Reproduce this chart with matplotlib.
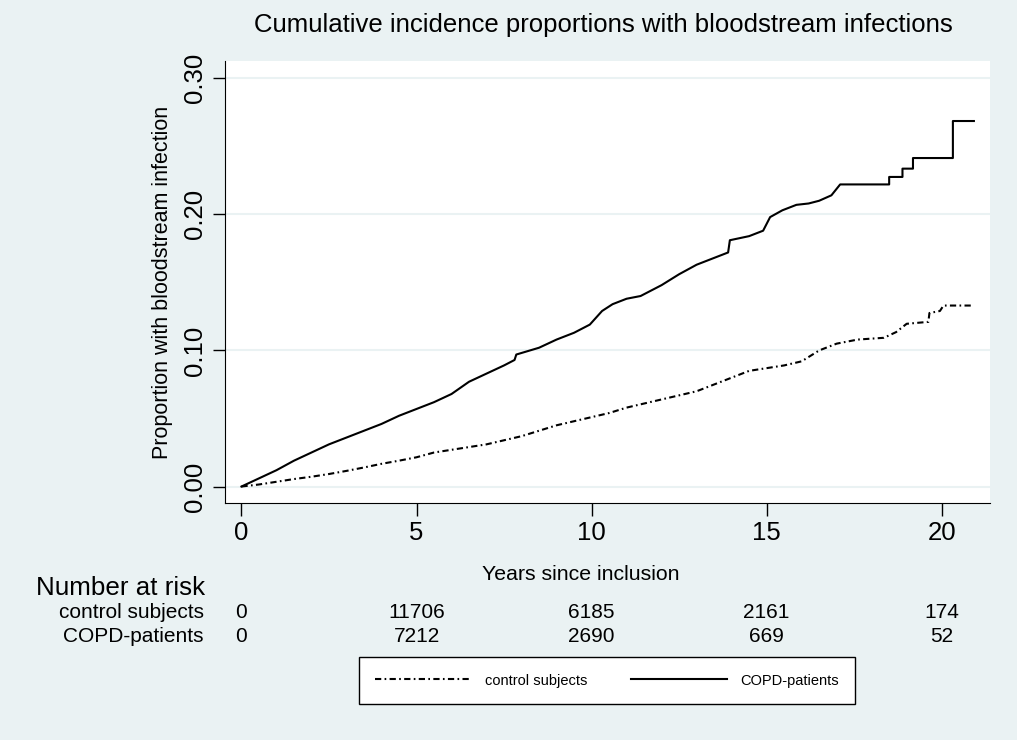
import numpy as np
import matplotlib.pyplot as plt
from matplotlib.lines import Line2D
from matplotlib.transforms import blended_transform_factory

plt.rcParams['font.family'] = ['Liberation Sans', 'DejaVu Sans']

bg = '#EAF2F3'

# cumulative incidence curves, vertices
# (a repeated time means a vertical jump)
copd_t = [0, 0.5, 1.0, 1.5, 2.0, 2.5, 3.0, 3.5, 4.0, 4.5, 5.0, 5.5, 6.0, 6.5,
          7.0, 7.5, 7.8, 7.85, 8.5, 9.0, 9.5, 9.95, 10.3, 10.6, 11.0, 11.4,
          12.0, 12.5, 13.0, 13.5, 13.9, 13.95, 14.5, 14.9, 15.1, 15.45,
          15.85, 16.2, 16.5, 16.85, 17.1, 18.5, 18.5, 18.88, 18.88, 19.18,
          19.18, 20.32, 20.32, 20.92]
copd_y = [0, 0.006, 0.012, 0.019, 0.025, 0.031, 0.036, 0.041, 0.046, 0.052,
          0.057, 0.062, 0.068, 0.077, 0.083, 0.089, 0.093, 0.097, 0.102,
          0.108, 0.113, 0.119, 0.129, 0.134, 0.138, 0.140, 0.148, 0.156,
          0.163, 0.168, 0.172, 0.181, 0.184, 0.188, 0.198, 0.203, 0.207,
          0.208, 0.210, 0.214, 0.222, 0.222, 0.2275, 0.2275, 0.2336, 0.2336,
          0.2414, 0.2414, 0.2686, 0.2686]

ctrl_t = [0, 0.5, 1.0, 1.5, 2.0, 2.5, 3.0, 3.5, 4.0, 4.5, 5.0, 5.5, 6.0, 6.5,
          7.0, 7.5, 8.0, 8.5, 9.0, 9.5, 10.0, 10.5, 11.0, 11.5, 12.0, 12.5,
          13.0, 13.5, 14.0, 14.5, 15.0, 15.5, 16.0, 16.5, 17.0, 17.6, 18.35,
          18.7, 19.0, 19.62, 19.65, 19.95, 20.05, 20.92]
ctrl_y = [0, 0.0015, 0.0035, 0.0055, 0.0072, 0.0092, 0.0115, 0.014, 0.0167,
          0.019, 0.0215, 0.025, 0.027, 0.029, 0.031, 0.034, 0.037, 0.041,
          0.045, 0.048, 0.051, 0.054, 0.058, 0.061, 0.064, 0.067, 0.070,
          0.075, 0.080, 0.085, 0.087, 0.089, 0.092, 0.100, 0.105, 0.108,
          0.1093, 0.1135, 0.1196, 0.121, 0.1275, 0.129, 0.133, 0.133]

risk_times = [0, 5, 10, 15, 20]
risk_ctrl = [0, 11706, 6185, 2161, 174]
risk_copd = [0, 7212, 2690, 669, 52]

dashdot = (3, 1.6, 0.8, 1.6)

fig = plt.figure(figsize=(10.17, 7.40), dpi=100, facecolor=bg)
ax = fig.add_axes([225 / 1017, 1 - 503 / 740, 765 / 1017, 442 / 740])
ax.set_facecolor('white')

ax.plot(ctrl_t, ctrl_y, color='black', lw=1.5, dashes=dashdot)
ax.plot(copd_t, copd_y, color='black', lw=1.5)

ax.set_xlim(-0.47, 21.38)
ax.set_ylim(-0.0121, 0.3127)
ax.set_xticks([0, 5, 10, 15, 20])
ax.set_yticks([0, 0.1, 0.2, 0.3])
ax.set_yticklabels(['0.00', '0.10', '0.20', '0.30'], rotation=90, va='center')
ax.tick_params(axis='both', length=9, width=1, labelsize=18.5, pad=4)
ax.grid(axis='y', color=bg, lw=1.5)
ax.set_axisbelow(True)
for s in ['top', 'right']:
    ax.spines[s].set_visible(False)

ax.set_ylabel('Proportion with bloodstream infection', fontsize=15.5, labelpad=7)
fig.text(603 / 1017, 1 - 25 / 740,
         'Cumulative incidence proportions with bloodstream infections',
         ha='center', va='center', fontsize=18.5)
fig.text(581 / 1017, 1 - 574 / 740, 'Years since inclusion',
         ha='center', va='center', fontsize=15.3)

# number at risk table
fig.text(36 / 1017, 1 - 588 / 740, 'Number at risk', ha='left',
         va='center', fontsize=18.7)
fig.text(204 / 1017, 1 - 613 / 740, 'control subjects', ha='right',
         va='center', fontsize=15)
fig.text(204 / 1017, 1 - 637 / 740, 'COPD-patients', ha='right',
         va='center', fontsize=15)
tr = blended_transform_factory(ax.transData, fig.transFigure)
for t, a, b in zip(risk_times, risk_ctrl, risk_copd):
    fig.text(t, 1 - 613 / 740, str(a), transform=tr, ha='center',
             va='center', fontsize=15)
    fig.text(t, 1 - 637 / 740, str(b), transform=tr, ha='center',
             va='center', fontsize=15)

handles = [Line2D([], [], color='black', lw=1.5, dashes=dashdot),
           Line2D([], [], color='black', lw=1.5)]
leg = fig.legend(handles, ['control subjects', 'COPD-patients'], ncol=2,
                 loc='center', bbox_to_anchor=(607 / 1017, 1 - 680.5 / 740),
                 fontsize=10.5, frameon=True, fancybox=False, framealpha=1,
                 handlelength=6.6, handletextpad=0.9, columnspacing=3.0,
                 borderpad=1.1)
leg.get_frame().set_edgecolor('black')
leg.get_frame().set_linewidth(1.0)

fig.savefig('out.png', dpi=100, facecolor=bg)
